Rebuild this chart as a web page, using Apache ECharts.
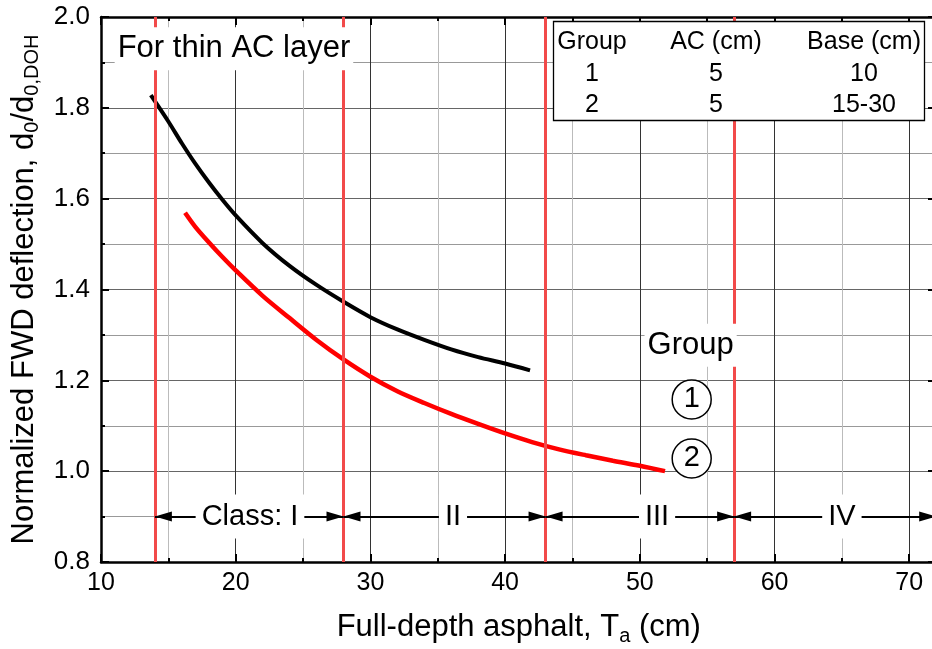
<!DOCTYPE html>
<html>
<head>
<meta charset="utf-8">
<script src="https://cdn.jsdelivr.net/npm/echarts@6/dist/echarts.min.js"></script>
<style>
html,body{margin:0;padding:0;background:#fff;}
#chart{width:932px;height:649px;}
</style>
</head>
<body>
<div id="chart"></div>
<script>
// ---- data ----
var group1X = [13.7, 15, 16, 17, 18, 19, 20, 22, 24, 26, 28, 30, 32, 34, 36, 38, 40, 41.85];
var group1Y = [1.828, 1.770, 1.722, 1.677, 1.636, 1.598, 1.563, 1.502, 1.452, 1.410, 1.373, 1.339, 1.312, 1.289, 1.268, 1.251, 1.237, 1.222];
var group2X = [16.24, 17, 18, 19, 20, 22, 24, 26, 28, 30, 32, 34, 36, 38, 40, 42, 44, 46, 48, 50, 51.87];
var group2Y = [1.569, 1.538, 1.504, 1.472, 1.442, 1.386, 1.337, 1.289, 1.246, 1.208, 1.176, 1.150, 1.126, 1.104, 1.083, 1.064, 1.048, 1.035, 1.023, 1.012, 1.000];
var classBounds = [14, 28, 43, 57, 72];
var classNames = ['Class: I', 'II', 'III', 'IV'];
var classLabelX = [21.06, 36.13, 51.28, 65.0];
var classArrowY = 0.9;
var noteText = ['For thin AC layer', 'Group'];
var noteX = [19.87, 53.77];
var noteY = [1.930, 1.277];
var circleNames = ['1', '2'];
var circleX = [53.85, 53.85];
var circleY = [1.158, 1.028];
var tableHeader = ['Group', 'AC (cm)', 'Base (cm)'];
var tableRows = [['1', '5', '10'], ['2', '5', '15-30']];
var xTicks = [10, 20, 30, 40, 50, 60, 70];
var yTicks = [0.8, 1.0, 1.2, 1.4, 1.6, 1.8, 2.0];

var FONT = '"Liberation Sans", Arial, sans-serif';
var chart = echarts.init(document.getElementById('chart'), null, {renderer: 'canvas'});

function pairs(xs, ys) { return xs.map(function (x, i) { return [x, ys[i]]; }); }

var boundaryLines = classBounds.slice(0, 4).map(function (b) { return {xAxis: b}; });
var arrowEnd = {symbol: 'triangle', symbolSize: [10, 17], symbolOffset: [0, 8.5]};
var arrows = classNames.map(function (n, i) {
  return [Object.assign({coord: [classBounds[i], classArrowY]}, arrowEnd),
          Object.assign({coord: [classBounds[i + 1], classArrowY]}, arrowEnd)];
});

var gridBox = {left: 101, top: 17, width: 875.6, height: 545, outerBoundsMode: 'none', containLabel: false};
// table (legend box) layout
var colCx = [592, 716, 864];
var rowCy = [42, 74, 105];
var tableEls = [{
  type: 'rect', shape: {x: 553.5, y: 21.5, width: 371, height: 99},
  style: {fill: '#fff', stroke: '#000', lineWidth: 1.3}, z: 100
}];
[tableHeader].concat(tableRows).forEach(function (row, r) {
  row.forEach(function (t, c) {
    tableEls.push({type: 'text', x: colCx[c], y: rowCy[r], z: 101,
      style: {text: t, font: '25px ' + FONT, fill: '#000', align: 'center', verticalAlign: 'middle'}});
  });
});

var nameRich = {
  n: {fontSize: 31, fontFamily: FONT, color: '#000', lineHeight: 38, verticalAlign: 'middle'},
  s: {fontSize: 20, fontFamily: FONT, color: '#000', lineHeight: 15, verticalAlign: 'bottom'}
};
var axisCommon = {
  axisLine: {show: true, onZero: false, lineStyle: {color: '#000', width: 2.5}},
  axisTick: {show: true, inside: true, length: 8, lineStyle: {color: '#000', width: 2}},
  minorTick: {show: true, splitNumber: 2, length: 4, lineStyle: {color: '#000', width: 2}}
};

var option = {
  animation: false,
  backgroundColor: '#fff',
  grid: gridBox,
  xAxis: [Object.assign({
    type: 'value', min: 10, max: 75, interval: 10, position: 'bottom',
    name: '{n|Full-depth asphalt, T}{s|a}{n| (cm)}',
    nameLocation: 'middle', nameGap: 46,
    nameTextStyle: {color: '#000', fontFamily: FONT, fontSize: 31, rich: nameRich, padding: [0, 40, 0, 0]},
    axisLabel: {color: '#000', fontFamily: FONT, fontSize: 25, margin: 9,
      formatter: function (v) { return xTicks.indexOf(v) >= 0 ? String(v) : ''; }},
    splitLine: {show: true, lineStyle: {color: '#333', width: 1}},
    minorSplitLine: {show: true, lineStyle: {color: '#bbb', width: 1}}
  }, axisCommon), Object.assign({
    type: 'value', min: 10, max: 75, interval: 10, position: 'top',
    axisLabel: {show: false}, splitLine: {show: false}
  }, axisCommon)],
  yAxis: [Object.assign({
    type: 'value', min: 0.8, max: 2.0, interval: 0.2, position: 'left',
    name: '{n|Normalized FWD deflection, d}{s|0}{n|/d}{s|0,DOH}',
    nameLocation: 'middle', nameGap: 55, nameRotate: 90,
    nameTextStyle: {color: '#000', fontFamily: FONT, fontSize: 31, rich: nameRich},
    axisLabel: {color: '#000', fontFamily: FONT, fontSize: 26, margin: 11,
      formatter: function (v) { return v.toFixed(1); }},
    splitLine: {show: true, lineStyle: {color: '#666', width: 1}},
    minorSplitLine: {show: true, lineStyle: {color: '#999', width: 1}}
  }, axisCommon), Object.assign({
    type: 'value', min: 0.8, max: 2.0, interval: 0.2, position: 'right', offset: -40.6,
    axisLabel: {show: false}, splitLine: {show: false}
  }, axisCommon)],
  graphic: tableEls,
  series: [
    {
      name: 'bounds', type: 'line', data: [], z: 3, silent: true,
      markLine: {silent: true, symbol: ['none', 'none'], animation: false,
        label: {show: false},
        lineStyle: {color: '#f24a4a', width: 3, type: 'solid'},
        data: boundaryLines}
    },
    {
      name: 'classes', type: 'line', data: [], z: 3, silent: true,
      markLine: {silent: true, symbol: ['triangle', 'triangle'], symbolSize: 14, animation: false,
        label: {show: false},
        itemStyle: {color: '#000'},
        lineStyle: {color: '#000', width: 2, type: 'solid'},
        data: arrows}
    },
    {
      name: 'Group 1', type: 'line', smooth: 0.3, symbol: 'none', z: 4,
      lineStyle: {color: '#000', width: 4},
      data: pairs(group1X, group1Y)
    },
    {
      name: 'Group 2', type: 'line', smooth: 0.3, symbol: 'none', z: 4,
      lineStyle: {color: '#ff0000', width: 4.5},
      data: pairs(group2X, group2Y)
    },
    {
      name: 'classLabels', type: 'scatter', symbolSize: 0, z: 5, silent: true,
      itemStyle: {opacity: 1},
      data: classNames.map(function (n, i) { return {value: [classLabelX[i], classArrowY], name: n}; }),
      label: {show: true, position: 'inside', formatter: '{b}', color: '#000', fontFamily: FONT,
        fontSize: 29, backgroundColor: '#fff', padding: [5, 6], lineHeight: 34}
    },
    {
      name: 'notes', type: 'scatter', symbolSize: 0, z: 5, silent: true,
      itemStyle: {opacity: 1},
      data: noteText.map(function (n, i) { return {value: [noteX[i], noteY[i]], name: n}; }),
      label: {show: true, position: 'inside', formatter: '{b}', color: '#000', fontFamily: FONT,
        fontSize: 31, backgroundColor: '#fff', padding: [5, 3], lineHeight: 33}
    },
    {
      name: 'circles', type: 'scatter', symbol: 'circle', symbolSize: 39, z: 6, silent: true,
      itemStyle: {color: '#fff', borderColor: '#000', borderWidth: 1.5, opacity: 1},
      data: circleNames.map(function (n, i) { return {value: [circleX[i], circleY[i]], name: n}; }),
      label: {show: true, position: 'inside', formatter: '{b}', color: '#000', fontFamily: FONT, fontSize: 29}
    }
  ]
};
chart.setOption(option);
</script>
</body>
</html>
